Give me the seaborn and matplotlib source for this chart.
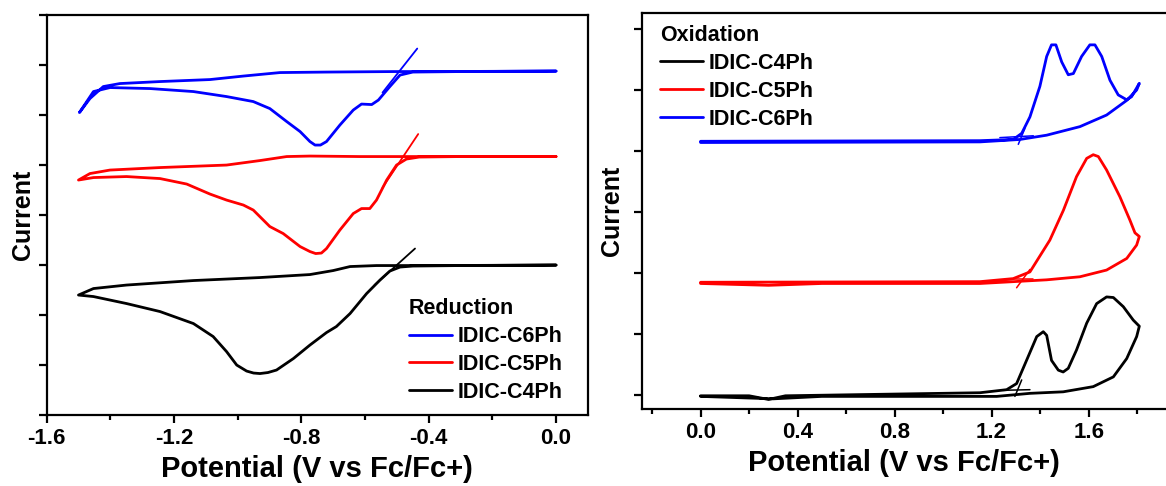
import numpy as np
import pandas as pd
import seaborn as sns
import matplotlib
matplotlib.use("Agg")
import matplotlib.pyplot as plt
from matplotlib.ticker import MultipleLocator, NullFormatter

# ---- reduction (left panel), potential in V vs Fc/Fc+, current in arbitrary units
# each loop: upper branch 0.0 -> -1.5, then lower branch -1.5 -> 0.0
red_c6_v = [0.0, -0.365, -0.511, -0.721, -0.867, -0.982, -1.087, -1.244, -1.37, -1.422, -1.464, -1.497,
            -1.453, -1.401, -1.275, -1.139, -1.035, -0.951, -0.899, -0.846, -0.804, -0.773, -0.757,
            -0.74, -0.721, -0.679, -0.637, -0.611, -0.579, -0.558, -0.522, -0.49, -0.45, -0.30, 0.0]
red_c6_i = [5.88, 5.87, 5.87, 5.86, 5.85, 5.78, 5.71, 5.67, 5.63, 5.57, 5.33, 5.05,
            5.47, 5.55, 5.53, 5.47, 5.37, 5.27, 5.13, 4.87, 4.67, 4.47, 4.40,
            4.40, 4.47, 4.80, 5.10, 5.22, 5.21, 5.30, 5.57, 5.80, 5.86, 5.87, 5.88]

red_c5_v = [0.0, -0.365, -0.616, -0.773, -0.846, -0.93, -1.035, -1.244, -1.401, -1.464, -1.5,
            -1.453, -1.349, -1.244, -1.16, -1.087, -1.035, -0.982, -0.951, -0.899, -0.857, -0.804,
            -0.773, -0.755, -0.737, -0.721, -0.679, -0.637, -0.611, -0.585, -0.564, -0.532, -0.501,
            -0.47, -0.43, -0.30, 0.0]
red_c5_i = [4.17, 4.17, 4.17, 4.18, 4.17, 4.09, 4.00, 3.95, 3.90, 3.83, 3.70,
            3.75, 3.77, 3.73, 3.62, 3.42, 3.30, 3.20, 3.10, 2.77, 2.63, 2.37,
            2.27, 2.23, 2.24, 2.33, 2.70, 3.03, 3.13, 3.13, 3.30, 3.70, 4.00,
            4.12, 4.16, 4.17, 4.17]

red_c4_v = [0.0, -0.365, -0.564, -0.647, -0.70, -0.773, -0.93, -1.139, -1.349, -1.453, -1.5,
            -1.453, -1.349, -1.244, -1.139, -1.077, -1.035, -1.003, -0.972, -0.95, -0.93, -0.905,
            -0.878, -0.825, -0.773, -0.721, -0.69, -0.647, -0.595, -0.553, -0.522, -0.49, -0.45,
            -0.30, 0.0]
red_c4_i = [2.00, 1.99, 1.99, 1.97, 1.89, 1.81, 1.75, 1.69, 1.60, 1.53, 1.40,
            1.37, 1.23, 1.07, 0.83, 0.57, 0.27, 0.00, -0.12, -0.16, -0.17, -0.15,
            -0.10, 0.13, 0.40, 0.65, 0.77, 1.03, 1.43, 1.70, 1.88, 1.96, 1.98,
            1.99, 2.00]

# onset tangents on the reduction waves (start, end)
red_tan_v = [[-0.545, -0.436], [-0.545, -0.433], [-0.57, -0.443]]
red_tan_i = [[5.45, 6.33], [3.55, 4.62], [1.60, 2.33]]

# ---- oxidation (right panel): forward 0.0 -> 1.8, back 1.8 -> 0.0
ox_c4_v = [0.0, 0.2, 0.28, 0.35, 1.152, 1.262, 1.303, 1.344, 1.386, 1.413, 1.427, 1.447, 1.475,
           1.495, 1.516, 1.55, 1.592, 1.633, 1.674, 1.702, 1.743, 1.784, 1.809,
           1.798, 1.757, 1.702, 1.619, 1.495, 1.358, 1.221, 1.0, 0.5, 0.3, 0.0]
ox_c4_i = [-0.01, -0.01, -0.07, -0.01, 0.04, 0.09, 0.19, 0.57, 0.96, 1.04, 0.98, 0.57, 0.41,
           0.38, 0.44, 0.74, 1.18, 1.50, 1.61, 1.60, 1.45, 1.23, 1.13,
           0.96, 0.60, 0.30, 0.14, 0.055, 0.03, -0.02, -0.02, -0.02, -0.06, -0.02]

ox_c5_v = [0.0, 1.152, 1.289, 1.358, 1.44, 1.496, 1.55, 1.592, 1.619, 1.64, 1.674, 1.729, 1.77,
           1.791, 1.809,
           1.798, 1.757, 1.674, 1.564, 1.427, 1.289, 1.152, 0.5, 0.28, 0.0]
ox_c5_i = [1.85, 1.86, 1.91, 2.02, 2.54, 3.03, 3.58, 3.88, 3.94, 3.91, 3.69, 3.25, 2.87,
           2.66, 2.60,
           2.46, 2.24, 2.05, 1.94, 1.89, 1.86, 1.83, 1.83, 1.80, 1.83]

ox_c6_v = [0.0, 1.152, 1.289, 1.324, 1.358, 1.399, 1.427, 1.447, 1.465, 1.489, 1.516, 1.537, 1.571,
           1.605, 1.626, 1.654, 1.688, 1.722, 1.757, 1.777, 1.809,
           1.798, 1.757, 1.674, 1.564, 1.427, 1.317, 1.152, 0.0]
ox_c6_i = [4.16, 4.17, 4.19, 4.29, 4.56, 5.06, 5.55, 5.74, 5.74, 5.46, 5.25, 5.27, 5.55,
           5.74, 5.74, 5.55, 5.16, 4.92, 4.84, 4.89, 5.11,
           5.00, 4.83, 4.59, 4.40, 4.26, 4.19, 4.15, 4.14]

# onset tangent lines on the oxidation waves (start, end)
tan_c4_v = [[1.248, 1.358], [1.296, 1.324]]
tan_c4_i = [[0.08, 0.09], [-0.02, 0.25]]
tan_c5_v = [[1.262, 1.372], [1.303, 1.358]]
tan_c5_i = [[1.91, 1.91], [1.76, 2.06]]
tan_c6_v = [[1.234, 1.372], [1.31, 1.337]]
tan_c6_i = [[4.22, 4.25], [4.11, 4.37]]

BLUE, RED, BLACK = "#0000ff", "#ff0000", "#000000"

sns.set_theme(style="ticks")
plt.rcParams['font.family'] = ['Liberation Sans', 'DejaVu Sans']
plt.rcParams['font.weight'] = 'bold'
plt.rcParams['axes.unicode_minus'] = False
plt.rcParams['axes.linewidth'] = 1.6
for k in ('text.color', 'axes.labelcolor', 'xtick.color', 'ytick.color', 'axes.edgecolor'):
    plt.rcParams[k] = 'black'

fig = plt.figure(figsize=(11.66, 4.86), dpi=100)
ax1 = fig.add_axes([0.040, 0.146, 0.4642, 0.823])
ax2 = fig.add_axes([0.5503, 0.158, 0.4497, 0.815])


def draw(ax, v, i, color, label=None, lw=2.0):
    df = pd.DataFrame({"V": v, "I": i})
    sns.lineplot(data=df, x="V", y="I", sort=False, estimator=None, color=color,
                 lw=lw, label=label, ax=ax, legend=False)
    return ax.lines[-1]


leg_kw = dict(loc="upper left", frameon=False, borderpad=0, borderaxespad=0,
              alignment="left", handlelength=2.0, handletextpad=0.25, labelspacing=0.32,
              prop={"size": 15.5, "weight": "bold"},
              title_fontproperties={"size": 15.5, "weight": "bold"})

# left panel
h6 = draw(ax1, red_c6_v, red_c6_i, BLUE, "IDIC-C6Ph")
h5 = draw(ax1, red_c5_v, red_c5_i, RED, "IDIC-C5Ph")
h4 = draw(ax1, red_c4_v, red_c4_i, BLACK, "IDIC-C4Ph")
for sv, si, c in zip(red_tan_v, red_tan_i, [BLUE, RED, BLACK]):
    draw(ax1, sv, si, c, lw=1.3)
ax1.set_xlim(-1.6, 0.1)
ax1.set_ylim(-1, 7)
ax1.xaxis.set_major_locator(MultipleLocator(0.4))
ax1.xaxis.set_minor_locator(MultipleLocator(0.2))
ax1.yaxis.set_major_locator(MultipleLocator(1))
ax1.yaxis.set_major_formatter(NullFormatter())
ax1.xaxis.set_major_formatter(plt.FuncFormatter(lambda x, p: f"{x:.1f}"))
ax1.legend(handles=[h6, h5, h4], title="Reduction", bbox_to_anchor=(0.669, 0.292), **leg_kw)

# right panel
g4 = draw(ax2, ox_c4_v, ox_c4_i, BLACK, "IDIC-C4Ph")
g5 = draw(ax2, ox_c5_v, ox_c5_i, RED, "IDIC-C5Ph")
g6 = draw(ax2, ox_c6_v, ox_c6_i, BLUE, "IDIC-C6Ph")
for tv, ti, c in [(tan_c4_v, tan_c4_i, BLACK), (tan_c5_v, tan_c5_i, RED), (tan_c6_v, tan_c6_i, BLUE)]:
    for sv, si in zip(tv, ti):
        draw(ax2, sv, si, c, lw=1.1)
ax2.set_xlim(-0.243, 1.919)
ax2.set_ylim(-0.23, 6.26)
ax2.xaxis.set_major_locator(MultipleLocator(0.4))
ax2.xaxis.set_minor_locator(MultipleLocator(0.2))
ax2.yaxis.set_major_locator(MultipleLocator(1))
ax2.yaxis.set_major_formatter(NullFormatter())
ax2.xaxis.set_major_formatter(plt.FuncFormatter(lambda x, p: f"{x:.1f}"))
ax2.spines["right"].set_visible(False)
ax2.legend(handles=[g4, g5, g6], title="Oxidation", bbox_to_anchor=(0.035, 0.970), **leg_kw)

for ax, pad in ((ax1, -1), (ax2, 3)):
    ax.set_xlabel("Potential (V vs Fc/Fc+)", fontsize=21, fontweight="bold", labelpad=4)
    ax.set_ylabel("Current", fontsize=18, fontweight="bold", labelpad=pad)
    ax.tick_params(axis="both", which="major", direction="out", length=6, width=1.6,
                   labelsize=16, color="black", labelcolor="black")
    ax.tick_params(axis="x", which="minor", direction="out", length=3.5, width=1.6, color="black")
    for s in ax.spines.values():
        s.set_color("black")
    for t in ax.get_xticklabels():
        t.set_fontweight("bold")

fig.savefig("out.png", dpi=100, facecolor="white")
